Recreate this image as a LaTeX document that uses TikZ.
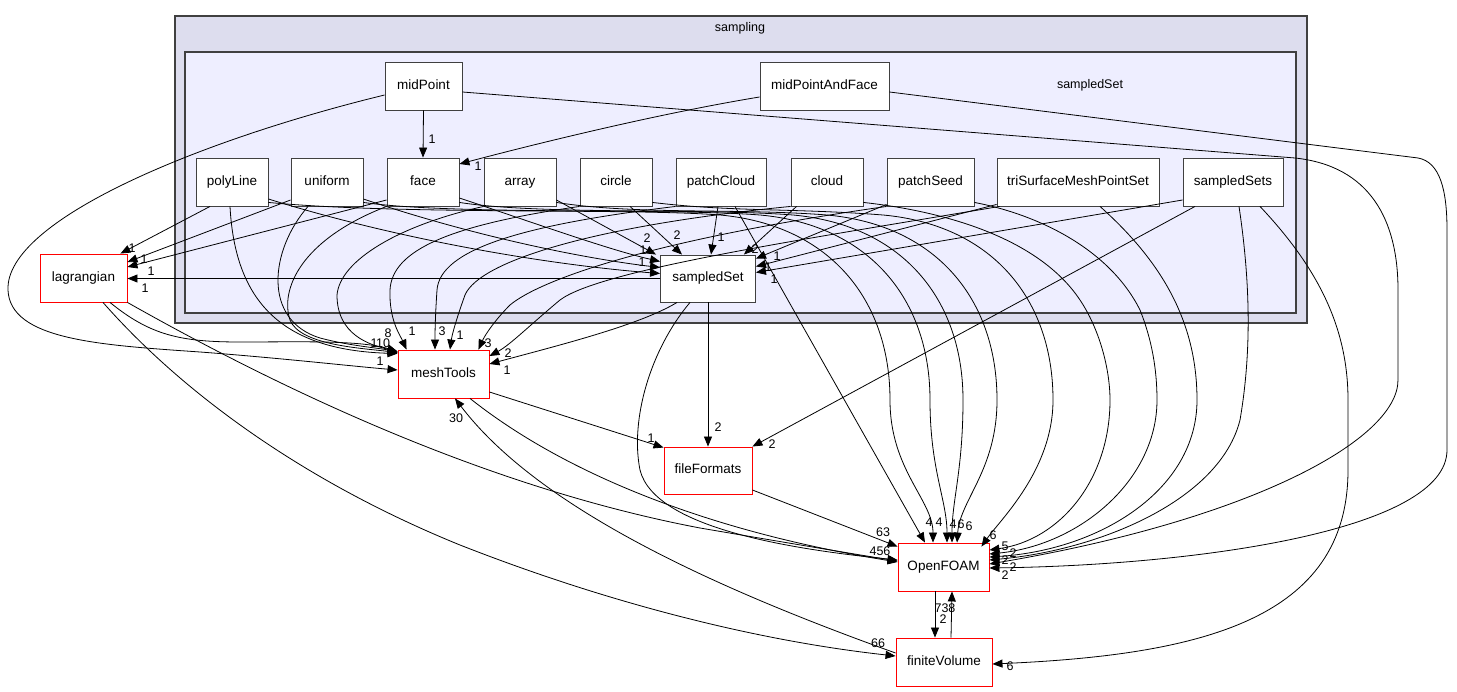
\documentclass[tikz,border=0pt]{standalone}
\usepackage{fontspec}
\setmainfont{Liberation Sans}
\usetikzlibrary{arrows.meta,calc}
\definecolor{outerc}{HTML}{DDDDEE}
\definecolor{innerc}{HTML}{EEEEFF}
\definecolor{framec}{HTML}{404040}
\begin{document}
\begin{tikzpicture}[x=1pt,y=-1pt,
  font=\fontsize{13.5}{15}\selectfont,
  e/.style={draw=black, line width=0.8pt, -{Triangle[length=10pt,width=8pt]}},
  box/.style={draw=framec, fill=white, line width=0.9pt, minimum height=48pt, inner sep=0pt, text height=9.5pt, text depth=2.5pt},
  ext/.style={box, draw=red},
  lab/.style={inner sep=0pt, font=\fontsize{12.5}{14}\selectfont},
  cluster/.style={draw=framec, line width=1.2pt}]
\useasboundingbox (0,0) rectangle (1457,692);
\fill[white] (0,0) rectangle (1457,692);
% clusters
\draw[cluster, fill=outerc] (175,16) rectangle (1307,323);
\draw[cluster, fill=innerc] (185,52) rectangle (1296,313);
\node[lab] (tSampling) at (740,28) {sampling};
\node[lab] (tSampledSet) at (1090,85) {sampledSet};
% nodes
\node[box,minimum width=77pt] (nMid) at (423.5,86) {midPoint};
\node[box,minimum width=129pt] (nMidF) at (824.5,86) {midPointAndFace};
\node[box,minimum width=72pt] (nPoly) at (232,182) {polyLine};
\node[box,minimum width=72pt] (nUni) at (327,182) {uniform};
\node[box,minimum width=72pt] (nFace) at (423,182) {face};
\node[box,minimum width=72pt] (nArr) at (520,182) {array};
\node[box,minimum width=72pt] (nCirc) at (616,182) {circle};
\node[box,minimum width=90pt] (nPC) at (721,182) {patchCloud};
\node[box,minimum width=72pt] (nCloud) at (827,182) {cloud};
\node[box,minimum width=87pt] (nPS) at (930.5,182) {patchSeed};
\node[box,minimum width=162pt] (nTri) at (1078,182) {triSurfaceMeshPointSet};
\node[box,minimum width=100pt] (nSets) at (1233,182) {sampledSets};
\node[box,minimum width=95pt,minimum height=47pt] (nSet) at (708,278.5) {sampledSet};
\node[ext,minimum width=87pt] (nLag) at (83.5,278) {lagrangian};
\node[ext,minimum width=91pt] (nMesh) at (443.5,374) {meshTools};
\node[ext,minimum width=88pt,minimum height=47pt] (nFF) at (708,470.5) {fileFormats};
\node[ext,minimum width=91pt] (nOF) at (943.5,567) {OpenFOAM};
\node[ext,minimum width=96pt] (nFV) at (944,662) {finiteVolume};

% midPoint / midPointAndFace
\draw[e] (nMid.south) -- (nFace.north);
\draw[e] ($(nMidF.west)+(0,11)$) .. controls (650,115) and (520,148) .. ($(nFace.east)+(0,-18)$);
\draw[e] ($(nMid.west)+(0,9)$) .. controls (200,140) and (5,220) .. (8,290) .. controls (10,340) and (100,345) .. (200,352) .. controls (280,358) and (350,366) .. ($(nMesh.west)+(0,-4)$);
\draw[e] ($(nMid.east)+(0,6)$) -- (1295,158) .. controls (1370,166) and (1398,220) .. (1398,290) -- (1398,380) .. controls (1398,440) and (1250,520) .. ($(nOF.east)+(0,-3)$);
\draw[e] ($(nMidF.east)+(0,6)$) -- (1418,158) .. controls (1440,162) and (1447,190) .. (1447,230) -- (1447,450) .. controls (1447,530) and (1200,565) .. ($(nOF.east)+(0,1)$);

% to lagrangian
\draw[e] ($(nPoly.south)+(-22,0)$) -- ($(nLag.north east)+(-7,0)$);
\draw[e] ($(nUni.west)+(0,18)$) -- ($(nLag.east)+(0,-16)$);
\draw[e] ($(nFace.west)+(0,18)$) -- ($(nLag.east)+(0,-11)$);
\draw[e] (nSet.west) -- (nSet.west -| nLag.east);

% lagrangian out
\draw[e] ($(nLag.south)+(26.5,0)$) .. controls (150,335) and (180,342) .. (240,342) .. controls (300,342) and (360,340) .. ($(nMesh.north west)+(0,2)$);
\draw[e] (nLag.south east) .. controls (300,400) and (500,490) .. (700,528) .. controls (800,545) and (860,555) .. ($(nOF.west)+(0,-6)$);
\draw[e] ($(nLag.south)+(19.5,0)$) .. controls (180,390) and (300,480) .. (460,545) .. controls (600,600) and (750,640) .. ($(nFV.west)+(0,-6)$);

% meshTools / fileFormats / OpenFOAM / finiteVolume
\draw[e] ($(nMesh.south)+(26.5,0)$) .. controls (560,470) and (700,530) .. ($(nOF.west)+(0,-5)$);
\draw[e] ($(nMesh.east)+(0,18)$) -- ($(nFF.north west)+(0,1)$);
\draw[e] ($(nFV.west)+(0,-9)$) .. controls (720,590) and (540,510) .. ($(nMesh.south)+(11.5,0)$);
\draw[e] ($(nSet.south)+(-31,0)$) .. controls (640,325) and (560,345) .. ($(nMesh.east)+(0,-10)$);
\draw[e] ($(nSet.south)+(-18,0)$) .. controls (650,350) and (630,420) .. (640,470) .. controls (655,530) and (800,550) .. ($(nOF.west)+(0,-7)$);
\draw[e] (nSet.south) -- (nFF.north);
\draw[e] ($(nSets.south)+(-38,0)$) -- (nFF.north east);
\draw[e] ($(nFF.east)+(0,19.5)$) -- ($(nOF.north west)+(0,4)$);
\draw[e] ($(nOF.south)+(-8.5,0)$) -- ($(nFV.north)+(-9,0)$);
\draw[e] ($(nFV.north)+(7,0)$) -- ($(nOF.south)+(8.5,0)$);
\draw[e] ($(nSets.south)+(27,0)$) .. controls (1320,270) and (1348,330) .. (1348,400) -- (1348,470) .. controls (1348,620) and (1200,655) .. ($(nFV.east)+(0,2)$);
\draw[e] ($(nSets.south)+(6,0)$) .. controls (1250,280) and (1252,350) .. (1240,420) .. controls (1220,500) and (1100,550) .. ($(nOF.east)+(0,-7)$);

% to sampledSet
\draw[e] ($(nSets.west)+(0,18)$) -- ($(nSet.east)+(0,-6)$);
\draw[e] ($(nTri.south west)+(0,-2)$) -- ($(nSet.east)+(0,-12)$);
\draw[e] ($(nPS.south west)+(0,-2)$) -- ($(nSet.north east)+(0,4)$);
\draw[e] ($(nCloud.south west)+(6,0)$) -- ($(nSet.north east)+(-12,0)$);
\draw[e] ($(nPC.south)+(-3,0)$) -- ($(nSet.north)+(3,0)$);
\draw[e] ($(nCirc.south)+(14,0)$) -- ($(nSet.north)+(-26,0)$);
\draw[e] ($(nArr.east)+(0,18)$) -- ($(nSet.north west)+(-4,0)$);
\draw[e] ($(nFace.east)+(0,16)$) .. controls (540,225) and (610,250) .. ($(nSet.west)+(0,-17)$);
\draw[e] ($(nUni.east)+(0,17)$) .. controls (470,235) and (580,258) .. ($(nSet.west)+(0,-11)$);
\draw[e] ($(nPoly.east)+(0,17)$) .. controls (400,240) and (550,265) .. ($(nSet.west)+(0,-5)$);

% to meshTools (fan)
\draw[e] ($(nPoly.south)+(-2,0)$) .. controls (235,300) and (280,350) .. ($(nMesh.north west)+(0,4)$);
\draw[e] ($(nUni.south)+(-19,0)$) .. controls (270,250) and (262,320) .. (320,338) .. controls (350,346) and (380,348) .. ($(nMesh.north west)+(0,3)$);
\draw[e] (nFace.south west) .. controls (300,240) and (280,290) .. (290,320) .. controls (300,345) and (360,348) .. ($(nMesh.north west)+(0,3)$);
\draw[e] (nArr.south west) .. controls (400,225) and (340,260) .. (337,295) .. controls (337,335) and (370,345) .. ($(nMesh.north west)+(0,2)$);
\draw[e] (nCirc.south west) .. controls (450,225) and (392,250) .. (390,290) .. controls (389,320) and (400,335) .. ($(nMesh.north west)+(9,0)$);
\draw[e] (nPC.south west) .. controls (520,225) and (440,250) .. (437,290) .. controls (435,320) and (435,335) .. ($(nMesh.north)+(-8.5,0)$);
\draw[e] (nCloud.south west) .. controls (600,225) and (480,260) .. (465,295) .. controls (456,320) and (452,335) .. ($(nMesh.north)+(6.5,0)$);
\draw[e] (nPS.south west) .. controls (650,240) and (540,280) .. (510,305) .. controls (495,320) and (485,335) .. ($(nMesh.north east)+(-11,0)$);
\draw[e] ($(nTri.south west)+(3,0)$) .. controls (800,240) and (600,270) .. (560,300) .. controls (530,325) and (510,345) .. ($(nMesh.east)+(0,-18)$);

% to OpenFOAM (arcs)
\draw[e] ($(nPC.south)+(14,0)$) -- ($(nOF.north)+(-18.5,0)$);
\draw[e] ($(nPoly.south east)+(0,-4)$) .. controls (400,215) and (630,208) .. (720,215) .. controls (830,225) and (890,300) .. (890,400) .. controls (890,470) and (933,500) .. ($(nOF.north)+(-10.5,0)$);
\draw[e] ($(nUni.south east)+(0,-4)$) .. controls (450,215) and (670,208) .. (760,215) .. controls (870,225) and (930,300) .. (930,400) .. controls (930,470) and (947,500) .. ($(nOF.north)+(3.5,0)$);
\draw[e] ($(nFace.south east)+(0,-4)$) .. controls (540,215) and (703,208) .. (793,215) .. controls (903,225) and (963,300) .. (963,400) .. controls (963,470) and (952,500) .. ($(nOF.north)+(8.5,0)$);
\draw[e] ($(nArr.south east)+(0,-4)$) .. controls (636,215) and (737,208) .. (827,215) .. controls (937,225) and (997,300) .. (997,400) .. controls (997,470) and (960,500) .. ($(nOF.north)+(13.5,0)$);
\draw[e] ($(nCirc.south east)+(0,-4)$) .. controls (732,212) and (793,208) .. (883,215) .. controls (993,225) and (1053,300) .. (1053,400) .. controls (1053,470) and (1000,520) .. ($(nOF.north east)+(-8,4)$);
\draw[e] ($(nCloud.south east)+(0,-4)$) .. controls (950,212) and (1040,240) .. (1080,300) .. controls (1100,330) and (1110,370) .. (1110,400) .. controls (1110,480) and (1060,540) .. ($(nOF.east)+(0,-17)$);
\draw[e] ($(nPS.south east)+(0,-4)$) .. controls (1040,215) and (1110,250) .. (1140,310) .. controls (1152,340) and (1157,370) .. (1157,400) .. controls (1157,480) and (1080,545) .. ($(nOF.east)+(0,-13)$);
\draw[e] ($(nTri.south)+(22,0)$) .. controls (1160,260) and (1197,320) .. (1197,400) .. controls (1197,490) and (1100,550) .. ($(nOF.east)+(0,-10)$);

% labels
\node[lab] (l1) at (432,139) {1};
\node[lab] (l2) at (478,166) {1};
\node[lab] (l3) at (380,361) {1};
\node[lab] (l4) at (132,248) {1};
\node[lab] (l5) at (144,259) {1};
\node[lab] (l6) at (151,271) {1};
\node[lab] (l7) at (145,288) {1};
\node[lab] (l8) at (388,333) {8};
\node[lab] (l9) at (383,343) {10};
\node[lab] (l10) at (374,343) {1};
\node[lab] (l11) at (412,331) {1};
\node[lab] (l12) at (442,331) {3};
\node[lab] (l13) at (460,335) {1};
\node[lab] (l14) at (488,343) {3};
\node[lab] (l15) at (508,353) {2};
\node[lab] (l16) at (507,370) {1};
\node[lab] (l17) at (456,418) {30};
\node[lab] (l18) at (647,238) {2};
\node[lab] (l19) at (643,250) {1};
\node[lab] (l20) at (642,262) {1};
\node[lab] (l21) at (677,235) {2};
\node[lab] (l22) at (721,237) {1};
\node[lab] (l23) at (755,249) {2};
\node[lab] (l24) at (777,256) {1};
\node[lab] (l25) at (768,267) {1};
\node[lab] (l26) at (774,279) {1};
\node[lab] (l27) at (651,438) {1};
\node[lab] (l28) at (718,427) {2};
\node[lab] (l29) at (772,444) {2};
\node[lab] (l30) at (883,532) {63};
\node[lab] (l31) at (880,551) {456};
\node[lab] (l32) at (929,522) {4};
\node[lab] (l33) at (939,522) {4};
\node[lab] (l34) at (953,524) {4};
\node[lab] (l35) at (961,524) {6};
\node[lab] (l36) at (969,526) {6};
\node[lab] (l37) at (993,535) {6};
\node[lab] (l38) at (1005,546) {5};
\node[lab] (l39) at (1013,553) {2};
\node[lab] (l40) at (1005,560) {2};
\node[lab] (l41) at (1013,567) {2};
\node[lab] (l42) at (1005,575) {2};
\node[lab] (l43) at (945,608) {738};
\node[lab] (l44) at (943,619) {2};
\node[lab] (l45) at (878,643) {66};
\node[lab] (l46) at (1010,666) {6};
\end{tikzpicture}
\end{document}
